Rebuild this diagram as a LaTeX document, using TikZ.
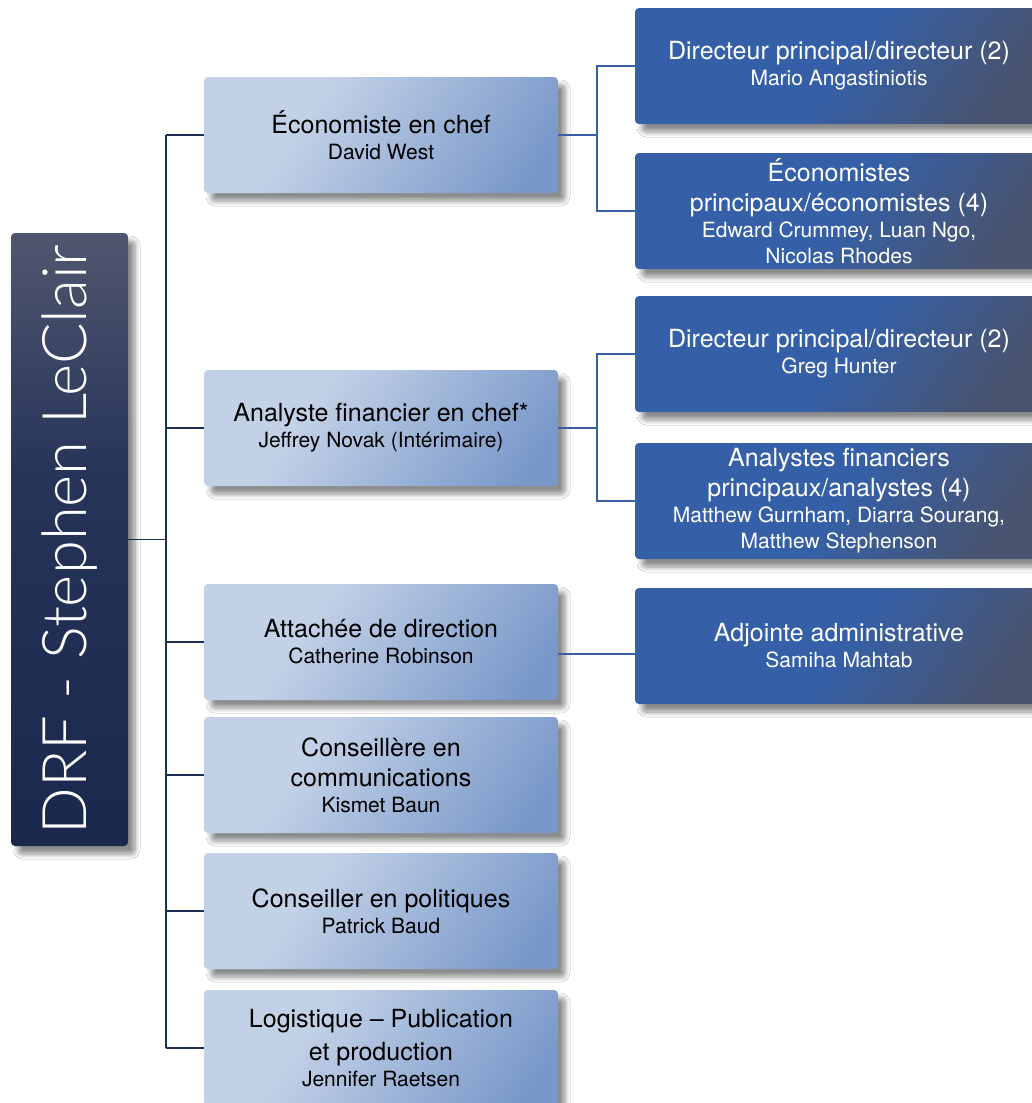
\documentclass[tikz,border=0pt]{standalone}
\usepackage{fontspec}
\setmainfont{TeX Gyre Heros}
\IfFontExistsTF{Lato Light}{\newfontfamily\rootfont{Lato Light}}{\newfontfamily\rootfont{TeX Gyre Heros}}
\usetikzlibrary{shadows.blur,calc}

\definecolor{mA}{RGB}{195,209,231}
\definecolor{mC}{RGB}{121,152,201}
\definecolor{rA}{RGB}{53,96,168}
\definecolor{rC}{RGB}{72,84,112}
\definecolor{kT}{RGB}{80,86,110}
\definecolor{kM}{RGB}{38,52,90}
\definecolor{kB}{RGB}{27,40,78}
\definecolor{lineL}{RGB}{30,45,85}
\definecolor{lineR}{RGB}{58,94,165}
\definecolor{nameK}{RGB}{30,30,30}

\pgfdeclarehorizontalshading{midshade}{100bp}{color(0bp)=(mA); color(41bp)=(mA); color(68bp)=(mC); color(100bp)=(mC)}
\pgfdeclarehorizontalshading{rshade}{100bp}{color(0bp)=(rA); color(50bp)=(rA); color(66bp)=(rC); color(100bp)=(rC)}
\pgfdeclareverticalshading{rootshade}{100bp}{color(0bp)=(kB); color(25bp)=(kB); color(55bp)=(kM); color(75bp)=(kT); color(100bp)=(kT)}

\newcommand{\Ttl}[1]{{\fontsize{25}{29}\selectfont #1}}
\newcommand{\Nm}[1]{{\fontsize{21}{26}\selectfont #1}}

\tikzset{
  base/.style={rounded corners=4pt, minimum height=116pt, inner sep=0pt, align=center,
    blur shadow={shadow xshift=7pt, shadow yshift=-8pt, shadow blur radius=5pt, shadow blur steps=8, shadow opacity=45},
    font=\fontsize{21}{26}\selectfont},
  mid/.style={base, minimum width=354pt, text=black,
    path picture={\begin{scope}[transform canvas={rotate around={-35:(path picture bounding box.center)}}]
      \shade[shading=midshade] ($(path picture bounding box.center)+(-200,-200)$) rectangle ++(400,400);
      \end{scope}}},
  rbox/.style={base, minimum width=408pt, text=white,
    path picture={\begin{scope}[transform canvas={rotate around={-35:(path picture bounding box.center)}}]
      \shade[shading=rshade] ($(path picture bounding box.center)+(-230,-230)$) rectangle ++(460,460);
      \end{scope}}},
  rootbox/.style={rounded corners=4pt, minimum width=117pt, minimum height=613pt, inner sep=0pt,
    shade, shading=rootshade,
    blur shadow={shadow xshift=7pt, shadow yshift=-8pt, shadow blur radius=5pt, shadow blur steps=8, shadow opacity=45}},
  lnL/.style={draw=lineL, line width=1.1pt},
  lnR/.style={draw=lineR, line width=1.1pt},
}

\begin{document}
\begin{tikzpicture}[x=1pt,y=-1pt]
\useasboundingbox (0,0) rectangle (1032,1103);
\fill[white] (0,0) rectangle (1032,1103);
\clip (0,0) rectangle (1032,1103);

% root
\node[rootbox] (root) at (69.5,539.5) {};
\node[rotate=90, text=white, font=\rootfont\fontsize{61.5}{64}\selectfont, inner sep=0pt] (roottext) at (root.center) {DRF - Stephen LeClair};

% middle column
\node[mid] (eco)  at (381,135)  {\Ttl{Économiste en chef}\\\Nm{David West}};
\node[mid] (ana)  at (381,428)  {\Ttl{Analyste financier en chef*}\\\Nm{Jeffrey Novak (Intérimaire)}};
\node[mid] (att)  at (381,642)  {\Ttl{Attachée de direction}\\\Nm{Catherine Robinson}};
\node[mid] (cons) at (381,775)  {\Ttl{Conseillère en}\\[4pt]\Ttl{communications}\\\Nm{Kismet Baun}};
\node[mid] (pol)  at (381,911)  {\Ttl{Conseiller en politiques}\\\Nm{Patrick Baud}};
\node[mid] (log)  at (381,1048) {\Ttl{Logistique – Publication}\\[7pt]\Ttl{et production}\\\Nm{Jennifer Raetsen}};

% right column
\node[rbox] (d1)  at (839,66)  {\Ttl{Directeur principal/directeur (2)}\\\Nm{Mario Angastiniotis}};
\node[rbox] (e2)  at (839,211) {\Ttl{Économistes}\\[4pt]\Ttl{principaux/économistes (4)}\\\Nm{Edward Crummey, Luan Ngo,}\\\Nm{Nicolas Rhodes}};
\node[rbox] (d2)  at (839,354) {\Ttl{Directeur principal/directeur (2)}\\\Nm{Greg Hunter}};
\node[rbox] (a2)  at (839,501) {\Ttl{Analystes financiers}\\[4pt]\Ttl{principaux/analystes (4)}\\\Nm{Matthew Gurnham, Diarra Sourang,}\\\Nm{Matthew Stephenson}};
\node[rbox] (adj) at (839,646) {\Ttl{Adjointe administrative}\\\Nm{Samiha Mahtab}};

% left trunk
\coordinate (tr) at (166,0);
\draw[lnL] (root.east) -- (root.east -| tr);
\draw[lnL] (tr |- eco.west) -- (tr |- log.west);
\foreach \n in {eco,ana,att,cons,pol,log} \draw[lnL] (tr |- \n.west) -- (\n.west);

% right connectors
\coordinate (j) at (597,0);
\coordinate (ay) at (0,654);
\draw[lnR] (eco.east) -- (eco.east -| j);
\draw[lnR] (d1.west) -| (j |- e2.west) -- (e2.west);
\draw[lnR] (ana.east) -- (ana.east -| j);
\draw[lnR] (d2.west) -| (j |- a2.west) -- (a2.west);
\draw[lnR] (att.east |- ay) -- (adj.west |- ay);
\end{tikzpicture}
\end{document}
